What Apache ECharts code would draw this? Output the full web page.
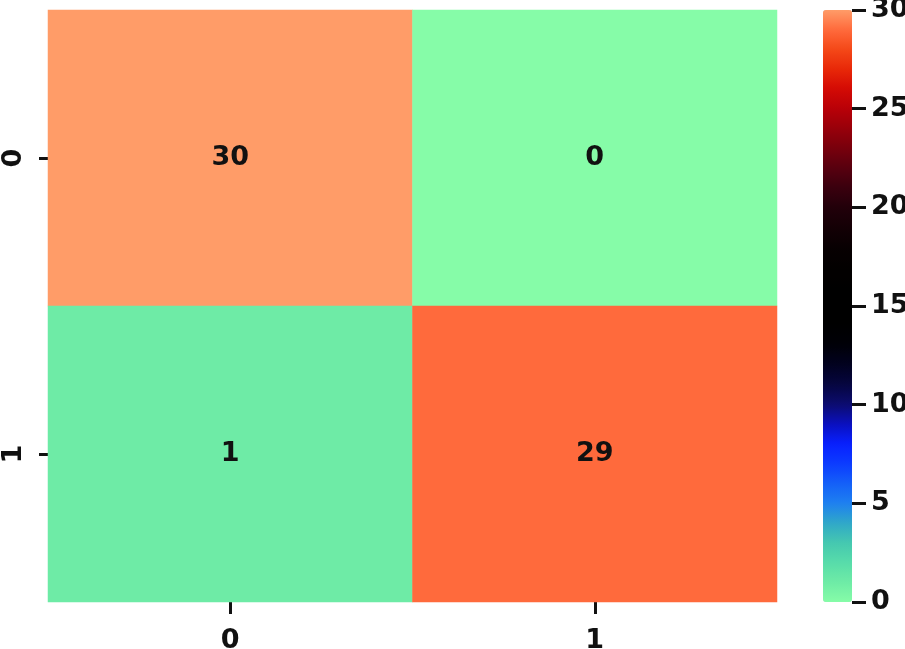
<!DOCTYPE html>
<html>
<head>
<meta charset="utf-8">
<script src="https://cdn.jsdelivr.net/npm/echarts@6/dist/echarts.min.js"></script>
<style>
  html, body { margin: 0; padding: 0; background: #fff; }
  #chart { width: 905px; height: 649px; }
</style>
</head>
<body>
<div id="chart"></div>
<script>
// confusion matrix
const xLabels = ['0', '1'];
const yLabels = ['0', '1'];
const cells = [
  // [col, row, value]
  [0, 0, 30], [1, 0, 0],
  [0, 1, 1], [1, 1, 29]
];
const cbarMin = 0;
const cbarMax = 30;
const cbarStep = 5;

// colormap, one colour per integer 0..30
const cmap = [
  '#86fca8', '#6eeba6', '#58dcaa', '#45c8b0', '#30a8c8', '#1e80f0',
  '#1460f8', '#0c3cff', '#0820ff', '#0a10c0', '#0c0c70', '#060640',
  '#020220', '#000008', '#000000', '#000000', '#000000', '#030000',
  '#080002', '#140005', '#22000a', '#3a000e', '#58000f', '#78000c',
  '#98000a', '#b80008', '#d40a04', '#e82808', '#f44818', '#ff6a3c',
  '#ff9c68'
];

const font = '"DejaVu Sans", sans-serif';
const txt = '#111';
const tickStyle = { color: txt, width: 3 };

let chart = echarts.init(document.getElementById('chart'));
let option = {
  backgroundColor: '#fff',
  animation: false,
  grid: [
    { left: 48, top: 10, width: 729, height: 592, outerBoundsMode: 'none' },
    { left: 823, top: 10, width: 29, height: 592, outerBoundsMode: 'none' }
  ],
  xAxis: [
    {
      type: 'category',
      gridIndex: 0,
      data: xLabels,
      axisLine: { show: false },
      axisTick: { show: true, alignWithLabel: true, inside: false, length: 12, lineStyle: tickStyle },
      axisLabel: { fontSize: 27, fontWeight: 'bold', color: txt, fontFamily: font, margin: 25 },
      splitLine: { show: false }
    },
    { type: 'value', gridIndex: 1, show: false, min: 0, max: 1 }
  ],
  yAxis: [
    {
      type: 'category',
      gridIndex: 0,
      data: yLabels,
      inverse: true,
      axisLine: { show: false },
      axisTick: { show: true, alignWithLabel: true, inside: false, length: 9, lineStyle: tickStyle },
      axisLabel: { fontSize: 27, fontWeight: 'bold', color: txt, fontFamily: font, rotate: 90, margin: 21 },
      splitLine: { show: false }
    },
    {
      type: 'value',
      gridIndex: 1,
      position: 'right',
      z: 20,
      min: cbarMin,
      max: cbarMax,
      interval: cbarStep,
      axisLine: { show: false, onZero: false },
      axisTick: { show: true, inside: false, length: 14, lineStyle: tickStyle },
      axisLabel: { fontSize: 27, fontWeight: 'bold', color: txt, fontFamily: font, margin: 19, padding: [3, 0, 0, 0] },
      splitLine: { show: false }
    }
  ],
  visualMap: {
    type: 'continuous',
    seriesIndex: 0,
    min: cbarMin,
    max: cbarMax,
    calculable: false,
    orient: 'vertical',
    align: 'left',
    left: 823,
    top: 10,
    padding: 0,
    z: 1,
    itemWidth: 29,
    itemHeight: 592,
    text: null,
    showLabel: false,
    inRange: { color: cmap }
  },
  series: [
    {
      type: 'heatmap',
      xAxisIndex: 0,
      yAxisIndex: 0,
      data: cells,
      label: {
        show: true,
        fontSize: 27,
        fontWeight: 'bold',
        color: txt,
        fontFamily: font,
        padding: [4, 0, 0, 0]
      },
      itemStyle: { borderWidth: 0 },
      emphasis: { disabled: true }
    }
  ]
};
chart.setOption(option);
window.addEventListener('resize', () => {
  chart.resize();
});
</script>
</body>
</html>
